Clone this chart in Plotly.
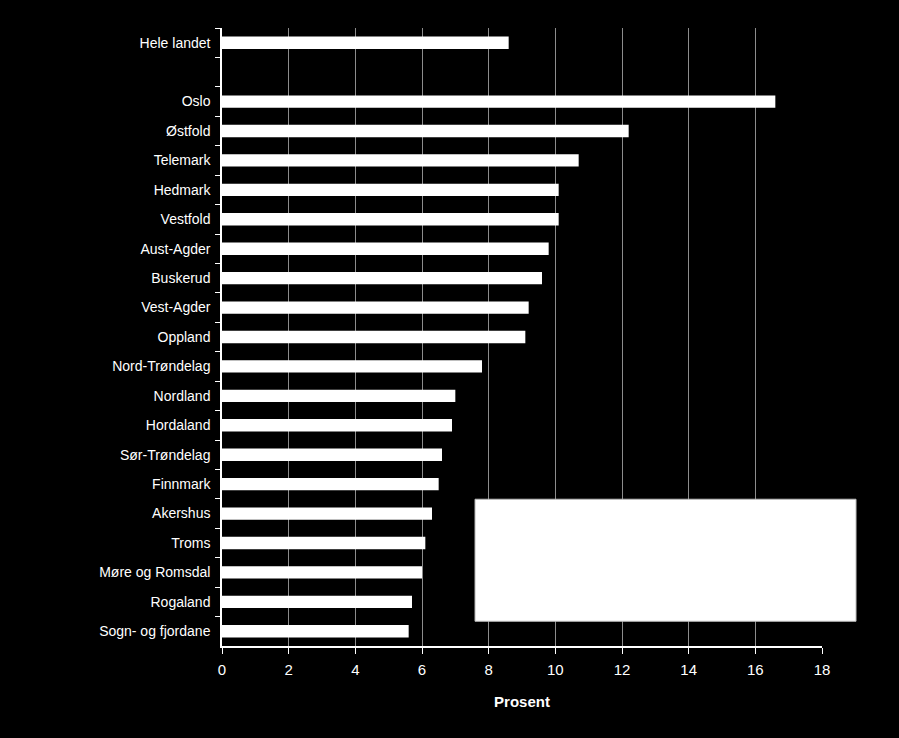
import plotly.graph_objects as go

categories = ["Hele landet", " ", "Oslo", "Østfold", "Telemark", "Hedmark", "Vestfold",
              "Aust-Agder", "Buskerud", "Vest-Agder", "Oppland", "Nord-Trøndelag",
              "Nordland", "Hordaland", "Sør-Trøndelag", "Finnmark", "Akershus", "Troms",
              "Møre og Romsdal", "Rogaland", "Sogn- og fjordane"]
values = [8.6, None, 16.6, 12.2, 10.7, 10.1, 10.1, 9.8, 9.6, 9.2, 9.1, 7.8,
          7.0, 6.9, 6.6, 6.5, 6.3, 6.1, 6.0, 5.7, 5.6]
x_ticks = [0, 2, 4, 6, 8, 10, 12, 14, 16, 18]

FONT = "Liberation Sans Narrow, Arial Narrow, Liberation Sans, Arial, sans-serif"

fig = go.Figure(go.Bar(
    y=categories, x=values, orientation="h",
    marker=dict(color="white", line=dict(width=0)),
    hoverinfo="x+y",
))

fig.update_layout(
    width=899, height=738,
    paper_bgcolor="black", plot_bgcolor="black",
    margin=dict(l=222, r=77, t=28, b=92, pad=0),
    bargap=0.58,
    showlegend=False,
    font=dict(family=FONT, size=14, color="white"),
    xaxis=dict(
        range=[0, 18], tickvals=x_ticks, ticktext=[str(v) for v in x_ticks],
        showgrid=True, gridcolor="#8c8c8c", gridwidth=1,
        showline=True, linecolor="white", linewidth=1.5,
        ticks="outside", ticklen=6, tickcolor="white",
        zeroline=False,
        ticklabelstandoff=3,
        tickfont=dict(family=FONT, size=15, color="white"),
        title=dict(text="<b>Prosent</b>", font=dict(family=FONT, size=15, color="white"), standoff=20),
    ),
    yaxis=dict(
        type="category", categoryorder="array", categoryarray=categories,
        autorange="reversed",
        showline=True, linecolor="white", linewidth=1.5,
        ticks="outside", ticklen=5, tickcolor="white", tickson="boundaries",
        ticklabelstandoff=7,
        showgrid=False,
        tickfont=dict(family=FONT, size=14, color="white"),
    ),
    shapes=[dict(type="rect", xref="paper", yref="paper",
                 x0=0.4217, x1=1.0567, y0=0.04, y1=0.2375,
                 fillcolor="white", line=dict(color="#bbbbbb", width=1), layer="above")],
)

fig.write_html("out.html")
